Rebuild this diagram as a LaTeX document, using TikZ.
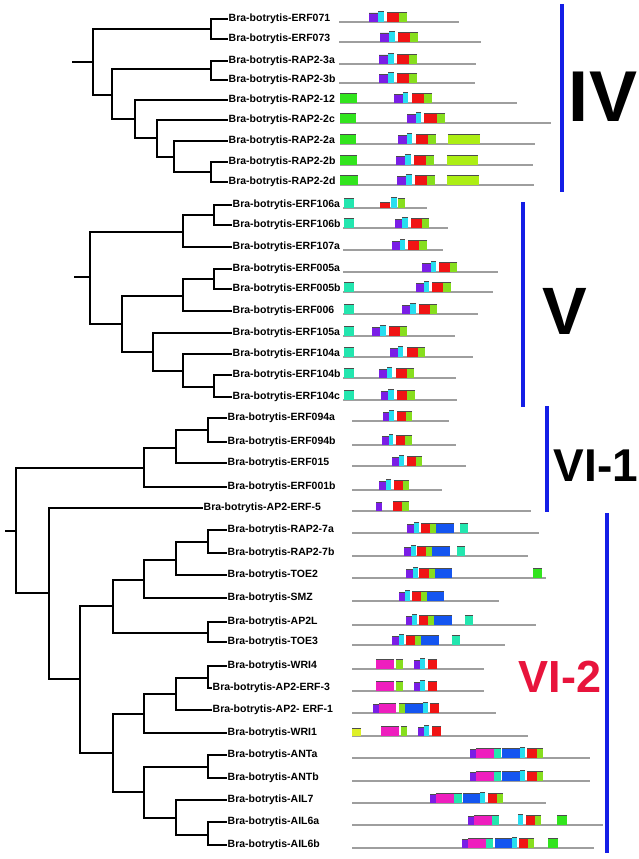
\documentclass[tikz,border=0pt]{standalone}
\usepackage{fontspec}
\setmainfont{Liberation Sans}
\usepackage{tikz}
\usetikzlibrary{calc}
\usepackage{xcolor}
\definecolor{cpur}{RGB}{122,30,230}
\definecolor{ccya}{RGB}{40,222,240}
\definecolor{cred}{RGB}{240,20,20}
\definecolor{cgrn}{RGB}{135,222,30}
\definecolor{cgreen}{RGB}{50,228,30}
\definecolor{clime}{RGB}{172,238,20}
\definecolor{cteal}{RGB}{35,230,175}
\definecolor{cblue}{RGB}{20,85,240}
\definecolor{cmag}{RGB}{238,30,190}
\definecolor{cyel}{RGB}{222,240,40}
\definecolor{barblue}{RGB}{20,30,230}
\definecolor{vired}{RGB}{232,20,60}
\tikzset{
    branch/.style={draw=black, line width=2.4pt},
    leaf/.style={anchor=west, inner sep=0.5pt, font=\bfseries\fontsize{10.5}{12}\selectfont},
    track/.style={draw=black!38, line width=1.1pt},
    dombox/.style={fill=#1},
    topedge/.style={draw=black!70, line width=0.6pt},
    dpur/.style={dombox=cpur, /utils/exec={\def\bt{6}}},
    dcya/.style={dombox=ccya, /utils/exec={\def\bt{7.5}}},
    dred/.style={dombox=cred, /utils/exec={\def\bt{6.5}}},
    dredl/.style={dombox=cred, /utils/exec={\def\bt{3}}},
    dgrn/.style={dombox=cgrn, /utils/exec={\def\bt{6.5}}},
    dgreen/.style={dombox=cgreen, /utils/exec={\def\bt{6.5}}},
    dlime/.style={dombox=clime, /utils/exec={\def\bt{6.5}}},
    dteal/.style={dombox=cteal, /utils/exec={\def\bt{7}}},
    dblue/.style={dombox=cblue, /utils/exec={\def\bt{7}}},
    dmag/.style={dombox=cmag, /utils/exec={\def\bt{7}}},
    dyel/.style={dombox=cyel, /utils/exec={\def\bt{5}}},
    clade/.style={draw=barblue, line width=4pt},
    cladetxt/.style={inner sep=0pt}
}
% one protein: gray track plus its domains
\newcommand{\domrow}[4]{%
  \draw[track] (#2,#1+3) -- (#3,#1+3);
  \foreach \dc/\a/\b in {#4} {%
    \path[\dc] (\a,#1+3) rectangle (\b,#1-\bt);
    \path[\dc, topedge] (\a,#1-\bt) -- (\b,#1-\bt);
  }%
}

\begin{document}
\begin{tikzpicture}[x=1pt, y=-1pt]
    \useasboundingbox (0,0) rectangle (638,859);

    % group IV
    \coordinate (r4) at (72,62);
    \coordinate (a4) at (93,62);
    \coordinate (b4) at (211,29);
    \coordinate (c4) at (112,95);
    \coordinate (d4) at (211,69);
    \coordinate (e4) at (135,119);
    \coordinate (f4) at (157,138);
    \coordinate (g4) at (174,157);
    \coordinate (h4) at (211,172);
    \foreach \n/\y/\t in {iv1/19/ERF071, iv2/39/ERF073, iv3/61/RAP2-3a, iv4/80/RAP2-3b,
        iv5/100/RAP2-12, iv6/120/RAP2-2c, iv7/141/RAP2-2a, iv8/162/RAP2-2b, iv9/182/RAP2-2d}
        \node[leaf] (\n) at (228,\y) {Bra-botrytis-\t};
    \draw[branch] (r4) -- (a4);
    \foreach \p/\c in {a4/b4, a4/c4, b4/iv1, b4/iv2, c4/d4, c4/e4, d4/iv3, d4/iv4,
        e4/iv5, e4/f4, f4/iv6, f4/g4, g4/iv7, g4/h4, h4/iv8, h4/iv9}
        \draw[branch] (\p) |- (\c);

    % group V
    \coordinate (r5) at (74,277);
    \coordinate (a5) at (90,277);
    \coordinate (b5) at (183,232);
    \coordinate (bb5) at (214,215);
    \coordinate (c5) at (122,324);
    \coordinate (d5) at (183,296);
    \coordinate (dd5) at (214,279);
    \coordinate (e5) at (153,352);
    \coordinate (f5) at (183,371);
    \coordinate (g5) at (214,387);
    \foreach \n/\y/\t in {v1/205/ERF106a, v2/225/ERF106b, v3/247/ERF107a, v4/269/ERF005a,
        v5/289/ERF005b, v6/311/ERF006, v7/333/ERF105a, v8/354/ERF104a, v9/375/ERF104b,
        v10/397/ERF104c}
        \node[leaf] (\n) at (232,\y) {Bra-botrytis-\t};
    \draw[branch] (r5) -- (a5);
    \foreach \p/\c in {a5/b5, a5/c5, b5/bb5, b5/v3, bb5/v1, bb5/v2, c5/d5, c5/e5,
        d5/dd5, d5/v6, dd5/v4, dd5/v5, e5/v7, e5/f5, f5/v8, f5/g5, g5/v9, g5/v10}
        \draw[branch] (\p) |- (\c);

    % group VI
    \coordinate (r6) at (5,531);
    \coordinate (a6) at (16,531);
    \coordinate (b6) at (144,468);
    \coordinate (bb6) at (176,448);
    \coordinate (bbb6) at (208,430);
    \coordinate (c6) at (49,593);
    \coordinate (d6) at (80,679);
    \coordinate (e6) at (113,606);
    \coordinate (f6) at (144,580);
    \coordinate (g6) at (176,560);
    \coordinate (h6) at (208,542);
    \coordinate (j6) at (208,633);
    \coordinate (k6) at (113,753);
    \coordinate (l6) at (144,714);
    \coordinate (m6) at (176,694);
    \coordinate (n6) at (208,678);
    \coordinate (o6) at (144,792);
    \coordinate (p6) at (208,767);
    \coordinate (q6) at (176,818);
    \coordinate (s6) at (208,835);
    \foreach \n/\x/\y/\t in {w1/227/418/ERF094a, w2/227/442/ERF094b, w3/227/463/ERF015,
        w4/227/487/ERF001b, w5/203/508/AP2-ERF-5, w6/227/530/RAP2-7a, w7/227/553/RAP2-7b,
        w8/227/575/TOE2, w9/227/598/SMZ, w10/227/622/AP2L, w11/227/642/TOE3,
        w12/227/666/WRI4, w13/212/688/AP2-ERF-3, w14/212/710/AP2- ERF-1, w15/227/733/WRI1,
        w16/227/755/ANTa, w17/227/778/ANTb, w18/227/800/AIL7, w19/227/822/AIL6a,
        w20/227/845/AIL6b}
        \node[leaf] (\n) at (\x,\y) {Bra-botrytis-\t};
    \draw[branch] (r6) -- (a6);
    \foreach \p/\c in {a6/b6, a6/c6, b6/bb6, b6/w4, bb6/bbb6, bb6/w3, bbb6/w1, bbb6/w2,
        c6/w5, c6/d6, d6/e6, d6/k6, e6/f6, e6/j6, f6/g6, f6/w9, g6/h6, g6/w8, h6/w6, h6/w7,
        j6/w10, j6/w11, k6/l6, k6/o6, l6/m6, l6/w15, m6/n6, m6/w14, n6/w12, n6/w13,
        o6/p6, o6/q6, p6/w16, p6/w17, q6/w18, q6/s6, s6/w19, s6/w20}
        \draw[branch] (\p) |- (\c);

    % domains IV
    \domrow{19}{339}{459}{dpur/369/378, dcya/378/384, dred/387/399, dgrn/399/407}
    \domrow{39}{339}{481}{dpur/380/389, dcya/389/395, dred/398/410, dgrn/410/418}
    \domrow{61}{339}{476}{dpur/379/388, dcya/388/394, dred/397/409, dgrn/409/417}
    \domrow{80}{339}{475}{dpur/379/388, dcya/388/394, dred/397/409, dgrn/409/417}
    \domrow{100}{340}{517}{dgreen/340/357, dpur/394/403, dcya/403/408, dred/412/424, dgrn/424/432}
    \domrow{120}{340}{551}{dgreen/340/356, dpur/407/416, dcya/416/421, dred/424/437, dgrn/437/445}
    \domrow{141}{340}{535}{dgreen/340/356, dpur/398/407, dcya/407/412, dred/416/428, dgrn/428/436, dlime/448/480}
    \domrow{162}{340}{533}{dgreen/340/357, dpur/396/405, dcya/405/411, dred/414/426, dgrn/426/434, dlime/447/478}
    \domrow{182}{340}{534}{dgreen/340/358, dpur/397/406, dcya/406/412, dred/415/427, dgrn/427/435, dlime/447/479}

    % domains V
    \domrow{205}{343}{427}{dteal/344/354, dredl/380/390, dcya/391/397, dgrn/398/405}
    \domrow{225}{343}{448}{dteal/344/354, dpur/395/402, dcya/402/408, dred/411/422, dgrn/422/429}
    \domrow{247}{343}{443}{dpur/392/400, dcya/400/405, dred/408/419, dgrn/419/427}
    \domrow{269}{343}{498}{dpur/422/431, dcya/431/436, dred/439/450, dgrn/450/457}
    \domrow{289}{343}{493}{dteal/344/354, dpur/416/424, dcya/424/429, dred/432/443, dgrn/443/451}
    \domrow{311}{343}{478}{dteal/344/354, dpur/402/410, dcya/410/416, dred/419/430, dgrn/430/437}
    \domrow{333}{343}{455}{dteal/344/354, dpur/372/380, dcya/380/386, dred/389/400, dgrn/400/407}
    \domrow{354}{343}{473}{dteal/344/354, dpur/390/398, dcya/398/403, dred/407/418, dgrn/418/425}
    \domrow{375}{343}{456}{dteal/344/354, dpur/379/387, dcya/387/392, dred/396/407, dgrn/407/414}
    \domrow{397}{343}{457}{dteal/344/354, dpur/381/388, dcya/388/394, dred/397/407, dgrn/407/415}

    % domains VI-1
    \domrow{418}{352}{449}{dpur/383/389, dcya/389/394, dred/397/406, dgrn/406/412}
    \domrow{442}{352}{456}{dpur/382/389, dcya/389/393, dred/396/405, dgrn/405/412}
    \domrow{463}{352}{466}{dpur/392/399, dcya/399/404, dred/407/416, dgrn/416/422}
    \domrow{487}{352}{442}{dpur/379/386, dcya/386/391, dred/394/403, dgrn/403/409}
    \domrow{508}{352}{531}{dpur/376/382, dred/393/402, dgrn/402/409}

    % domains VI-2
    \domrow{530}{352}{539}{dpur/407/414, dcya/414/419, dred/421/430, dgrn/430/436, dblue/436/454, dteal/460/468}
    \domrow{553}{352}{528}{dpur/404/411, dcya/411/416, dred/417/426, dgrn/426/432, dblue/432/450, dteal/457/465}
    \domrow{575}{352}{546}{dpur/406/413, dcya/413/418, dred/419/429, dgrn/429/435, dblue/435/452, dgreen/533/542}
    \domrow{598}{352}{499}{dpur/399/405, dcya/405/410, dred/412/421, dgrn/421/427, dblue/427/444}
    \domrow{622}{352}{536}{dpur/406/412, dcya/412/417, dred/419/428, dgrn/428/434, dblue/434/452, dteal/465/473}
    \domrow{642}{352}{505}{dpur/392/399, dcya/399/404, dred/406/415, dgrn/415/421, dblue/421/439, dteal/452/460}
    \domrow{666}{352}{484}{dmag/376/394, dgrn/396/403, dpur/414/420, dcya/420/425, dred/428/437}
    \domrow{688}{352}{484}{dmag/376/394, dgrn/396/403, dpur/414/420, dcya/420/425, dred/428/437}
    \domrow{710}{352}{496}{dpur/373/379, dmag/379/396, dgrn/399/405, dblue/405/423, dcya/423/428, dred/430/439}
    \domrow{733}{352}{528}{dyel/352/361, dmag/381/399, dgrn/401/407, dpur/418/424, dcya/424/429, dred/432/441}
    \domrow{755}{352}{590}{dpur/470/476, dmag/476/494, dteal/494/501, dblue/502/520, dcya/520/525, dred/527/537, dgrn/537/543}
    \domrow{778}{352}{590}{dpur/470/476, dmag/476/494, dteal/494/501, dblue/502/520, dcya/520/525, dred/527/537, dgrn/537/543}
    \domrow{800}{352}{546}{dpur/430/436, dmag/436/454, dteal/454/462, dblue/463/480, dcya/480/485, dred/488/497, dgrn/497/503}
    \domrow{822}{352}{603}{dpur/468/474, dmag/474/492, dteal/492/499, dcya/518/523, dred/526/535, dgrn/535/541, dgreen/557/567}
    \domrow{845}{352}{594}{dpur/462/468, dmag/468/486, dteal/486/493, dblue/495/512, dcya/512/517, dred/519/528, dgrn/528/534, dgreen/548/558}

    % clade bars and names
    \draw[clade] (562,4) -- (562,192);
    \draw[clade] (523,202) -- (523,407);
    \draw[clade] (547,406) -- (547,512);
    \draw[clade] (607,513) -- (607,853);
    \node[cladetxt, font=\bfseries\fontsize{72}{72}\selectfont] (tIV) at (603,97) {IV};
    \node[cladetxt, font=\bfseries\fontsize{67}{67}\selectfont] (tV) at (565,311) {V};
    \node[cladetxt, font=\bfseries\fontsize{46}{46}\selectfont] (tVIa) at (596,466) {VI-1};
    \node[cladetxt, font=\bfseries\fontsize{45}{45}\selectfont, text=vired] (tVIb) at (560,677) {VI-2};
\end{tikzpicture}
\end{document}
